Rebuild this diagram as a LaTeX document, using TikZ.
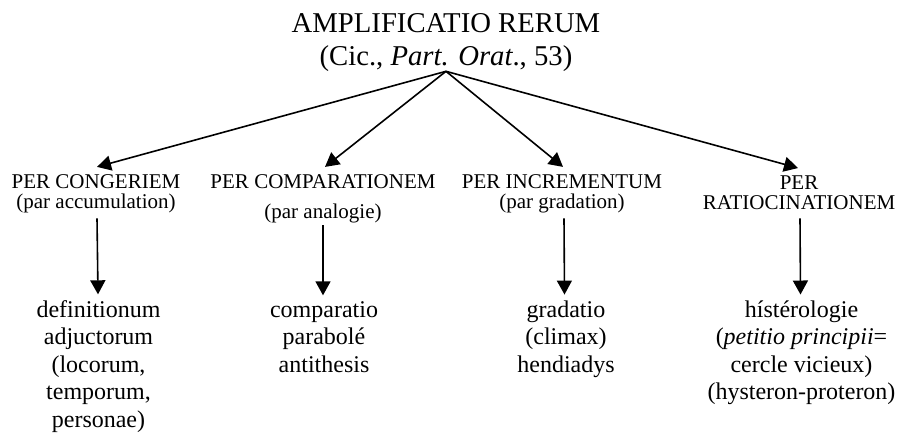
\documentclass[tikz,border=0pt]{standalone}
\usepackage{fontspec}
\setmainfont{Liberation Serif}
\usetikzlibrary{arrows.meta}
\begin{document}
\begin{tikzpicture}[x=1pt,y=-1pt,
  ttl/.style={anchor=base,align=center,inner sep=0pt,font=\fontsize{28.7}{33}\selectfont},
  cat/.style={anchor=base,align=center,inner sep=0pt,font=\fontsize{21}{20}\selectfont},
  itm/.style={anchor=base,align=center,inner sep=0pt,font=\fontsize{24}{27.6}\selectfont},
  arr/.style={line width=1.6pt,-{Triangle[width=15pt,length=14pt]}}]
\useasboundingbox (0,0) rectangle (902,437);
\node[ttl] (t) at (446,65) {AMPLIFICATIO RERUM\\(Cic., \textit{Part. Orat}., 53)};
\node[cat] (l1) at (96,208) {PER CONGERIEM\\(par accumulation)};
\node[cat] (l2) at (323,218) {PER COMPARATIONEM\\[10pt](par analogie)};
\node[cat] (l3) at (562,208) {PER INCREMENTUM\\(par gradation)};
\node[cat] (l4) at (799,209) {PER\\RATIOCINATIONEM};
\node[itm] (d1) at (98.5,427.4) {definitionum\\adjuctorum\\(locorum,\\temporum,\\personae)};
\node[itm] (d2) at (324,372.2) {comparatio\\parabolé\\antithesis};
\node[itm] (d3) at (566,372.2) {gradatio\\(climax)\\hendiadys};
\node[itm] (d4) at (801.5,399.8) {hístérologie\\(\textit{petitio principii}=\\cercle vicieux)\\(hysteron-proteron)};
\draw[arr] (t.south) -- ([shift={(1pt,7pt)}]l1.north);
\draw[arr] (t.south) -- ([shift={(2pt,7pt)}]l2.north);
\draw[arr] (t.south) -- ([shift={(1pt,7pt)}]l3.north);
\draw[arr] (t.south) -- ([shift={(-1pt,7pt)}]l4.north);
\draw[arr] ([shift={(1pt,-5.6pt)}]l1.south) -- ([shift={(-0.5pt,5.6pt)}]d1.north);
\draw[arr] ([shift={(0pt,-2.6pt)}]l2.south) -- ([shift={(-1pt,5.6pt)}]d2.north);
\draw[arr] ([shift={(2pt,-5.6pt)}]l3.south) -- ([shift={(-1.5pt,5.6pt)}]d3.north);
\draw[arr] ([shift={(1pt,-9pt)}]l4.south) -- ([shift={(-1pt,5.6pt)}]d4.north);
\end{tikzpicture}
\end{document}
